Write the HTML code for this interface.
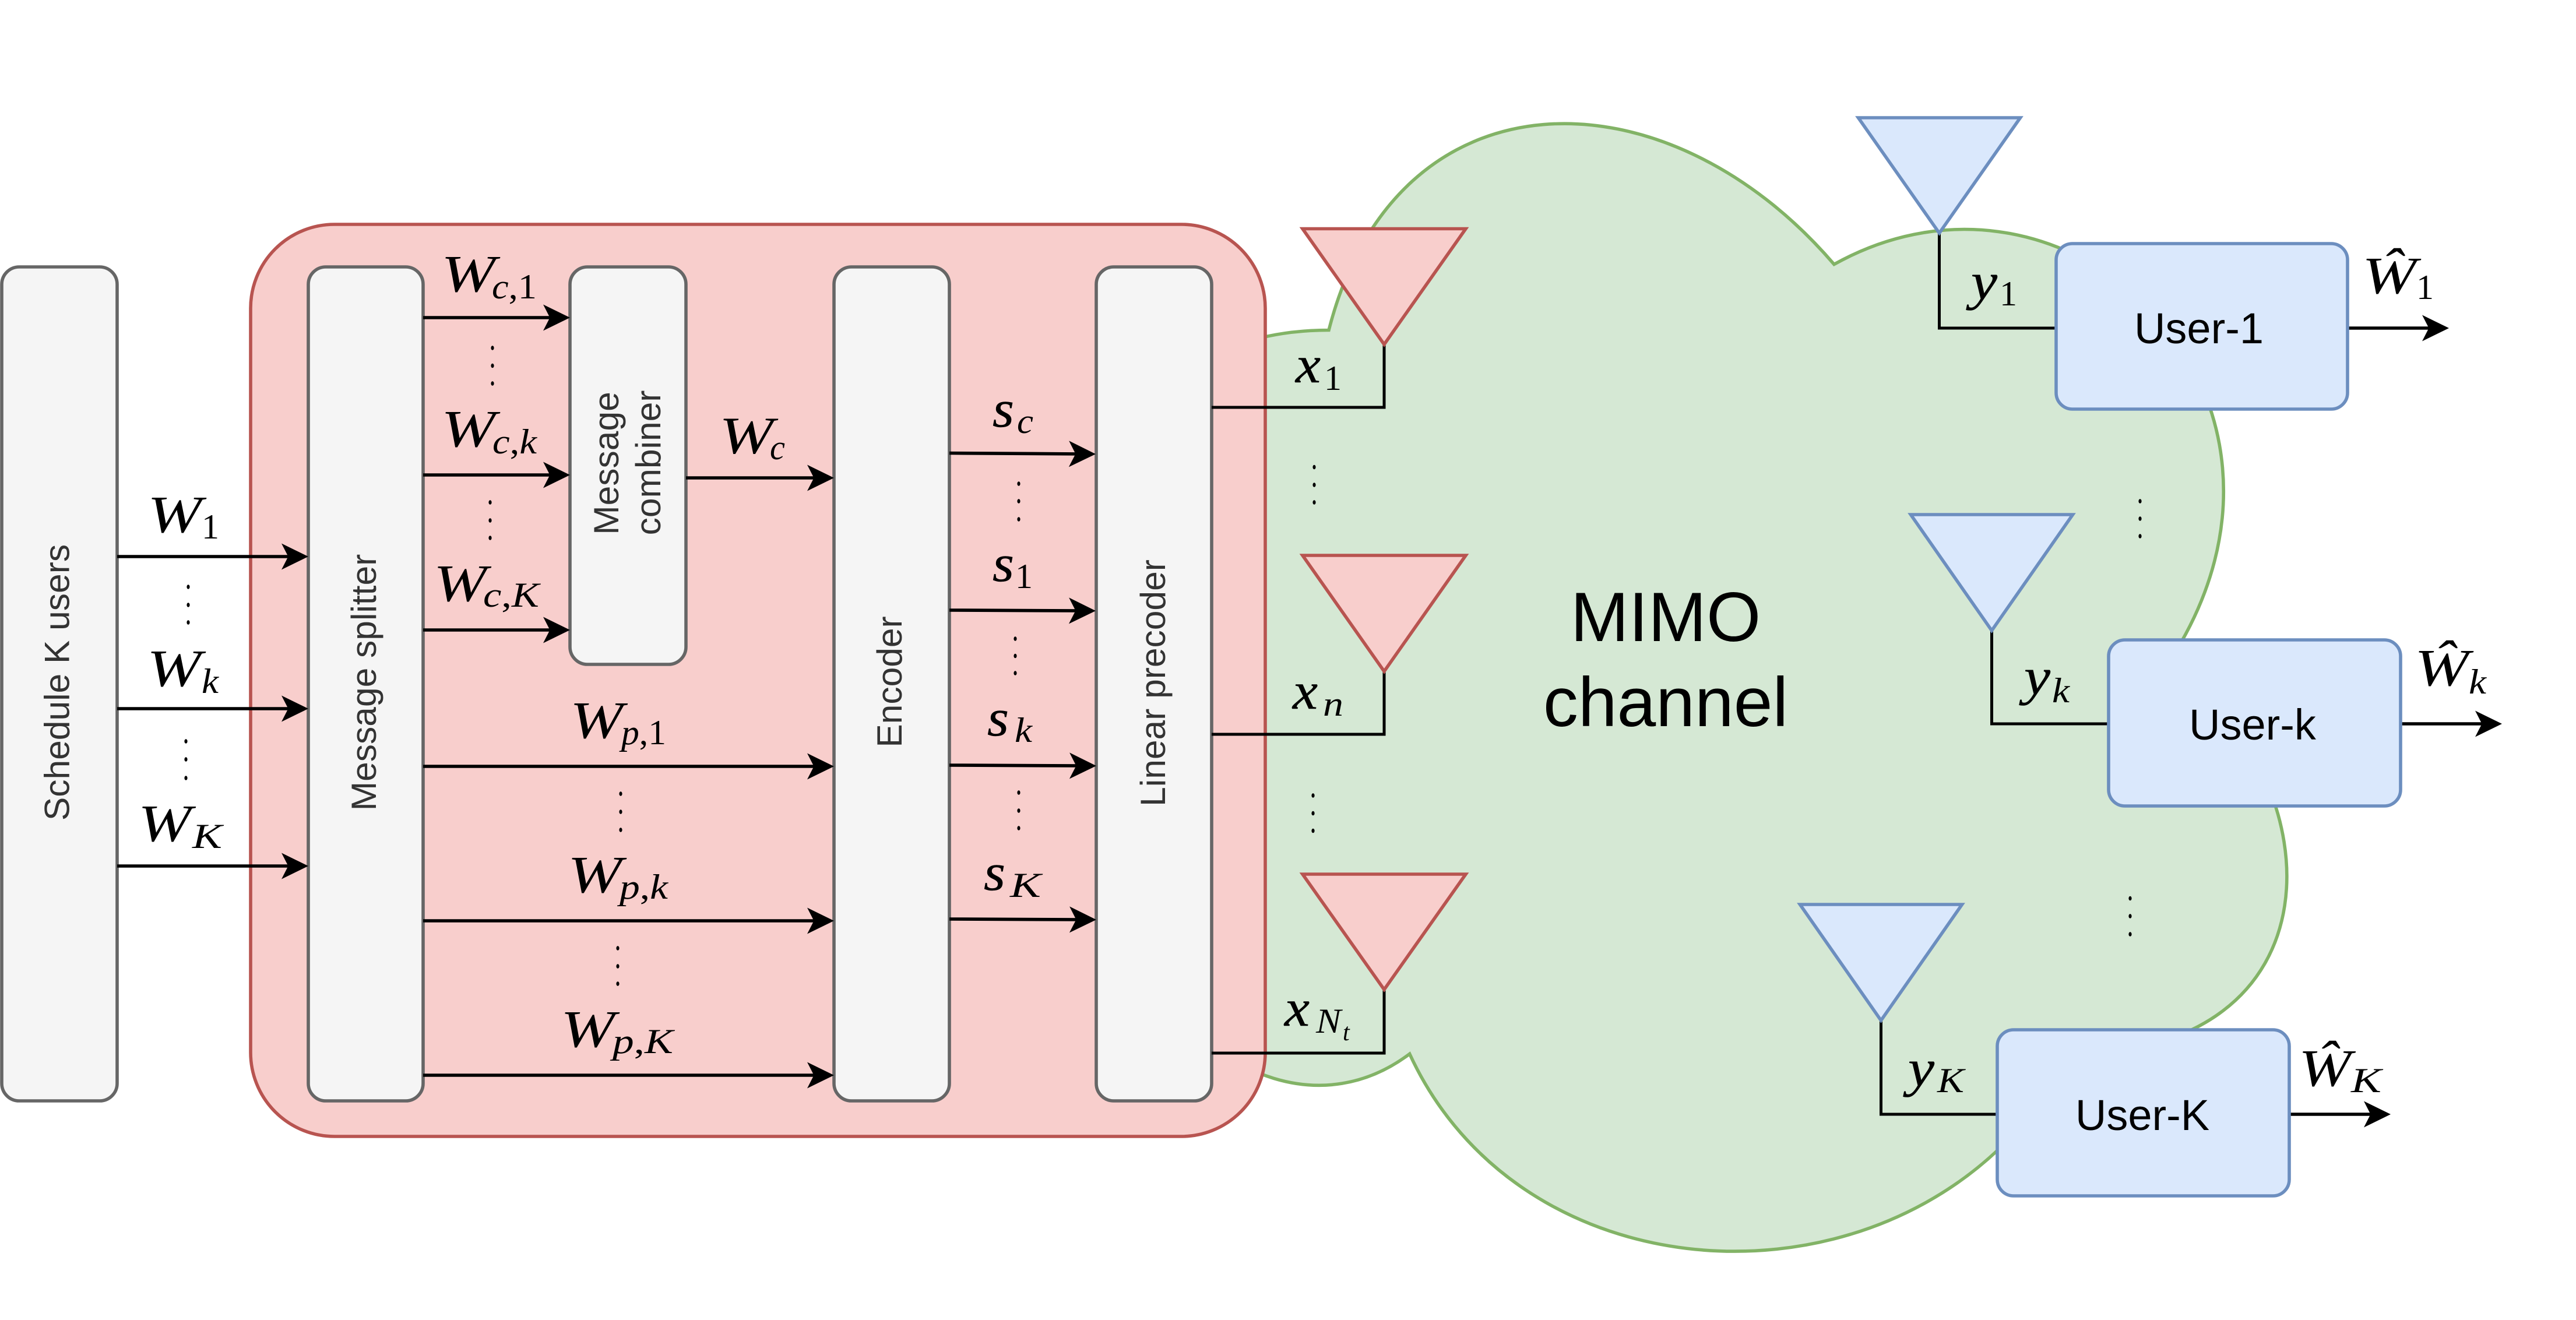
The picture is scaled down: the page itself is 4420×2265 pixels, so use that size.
<!DOCTYPE html>
<html><head><meta charset="utf-8">
<style>
html,body{margin:0;padding:0;background:#fff}
svg{display:block}
.m{font-family:"Liberation Serif",serif;font-style:italic;font-size:90px;fill:#000}
.h{stroke:#000;stroke-width:0.5}
.s{font-family:"Liberation Serif",serif;font-style:italic;font-size:60px;fill:#000}
.n{font-style:normal}
.b{font-family:"Liberation Sans",sans-serif;font-size:60.5px;fill:#333;text-anchor:middle}
.u{font-family:"Liberation Sans",sans-serif;font-size:74px;fill:#000;text-anchor:middle}
.c{font-family:"Liberation Sans",sans-serif;font-size:120px;fill:#000;text-anchor:middle}
.g{fill:#f5f5f5;stroke:#666;stroke-width:5.6}
.bl{fill:#dae8fc;stroke:#6c8ebf;stroke-width:5.6}
.rd{fill:#f8cecc;stroke:#b85450;stroke-width:5.6}
.l{stroke:#000;stroke-width:5.6;fill:none}
.k{stroke:#000;stroke-width:5;fill:none}
</style></head>
<body>
<svg xmlns="http://www.w3.org/2000/svg" width="4420" height="2265" viewBox="0 0 4420 2265">
<defs>
<marker id="a" markerUnits="userSpaceOnUse" markerWidth="46" markerHeight="45" refX="26" refY="22.5" orient="auto"><path d="M46 22.5L0 0L11.5 22.5L0 45z" fill="#000"/></marker>
</defs>
<rect width="4420" height="2265" fill="#fff"/>

<!-- cloud -->
<path d="M2280 566.5C1817.6 566.5 1702 1131 2071.9 1243.9C1702 1492.3 2118.2 2034.2 2418.7 1808.4C2626.8 2260 3320.4 2260 3551.6 1808.4C4014 1808.4 4014 1356.8 3725 1131C4014 679.4 3551.6 227.8 3147 453.6C2857 114.9 2395.6 114.9 2280 566.5Z" fill="#d5e8d4" stroke="#82b366" stroke-width="5.6"/>

<!-- red container -->
<rect x="430" y="385" width="1741" height="1565" rx="144" ry="144" class="rd"/>

<!-- blocks -->
<rect x="3" y="458" width="198" height="1431" rx="30" class="g"/>
<rect x="529" y="458" width="197" height="1431" rx="30" class="g"/>
<rect x="978" y="458" width="199" height="682" rx="30" class="g"/>
<rect x="1431" y="458" width="198" height="1431" rx="30" class="g"/>
<rect x="1881" y="458" width="198" height="1431" rx="30" class="g"/>

<!-- connectors -->
<line x1="201" y1="955" x2="509" y2="955" class="l" marker-end="url(#a)"/>
<line x1="201" y1="1216" x2="509" y2="1216" class="l" marker-end="url(#a)"/>
<line x1="201" y1="1486" x2="509" y2="1486" class="l" marker-end="url(#a)"/>
<line x1="726" y1="545" x2="958" y2="545" class="l" marker-end="url(#a)"/>
<line x1="726" y1="815" x2="958" y2="815" class="l" marker-end="url(#a)"/>
<line x1="726" y1="1081" x2="958" y2="1081" class="l" marker-end="url(#a)"/>
<line x1="1177" y1="820" x2="1411" y2="820" class="l" marker-end="url(#a)"/>
<line x1="726" y1="1315" x2="1411" y2="1315" class="l" marker-end="url(#a)"/>
<line x1="726" y1="1580" x2="1411" y2="1580" class="l" marker-end="url(#a)"/>
<line x1="726" y1="1845" x2="1411" y2="1845" class="l" marker-end="url(#a)"/>
<line x1="1629" y1="777.5" x2="1860" y2="779" class="l" marker-end="url(#a)"/>
<line x1="1629" y1="1047" x2="1860" y2="1048" class="l" marker-end="url(#a)"/>
<line x1="1629" y1="1313" x2="1861" y2="1314" class="l" marker-end="url(#a)"/>
<line x1="1629" y1="1577" x2="1861" y2="1578" class="l" marker-end="url(#a)"/>
<line x1="4028" y1="563" x2="4182" y2="563" class="l" marker-end="url(#a)"/>
<line x1="4119" y1="1242" x2="4273" y2="1242" class="l" marker-end="url(#a)"/>
<line x1="3928" y1="1912" x2="4082" y2="1912" class="l" marker-end="url(#a)"/>

<path d="M2079 699H2375V591" class="k"/>
<path d="M2079 1260H2375V1152" class="k"/>
<path d="M2079 1807H2375V1698" class="k"/>
<path d="M3327.5 400V563H3528" class="k"/>
<path d="M3417.5 1082V1242H3618" class="k"/>
<path d="M3227.5 1751V1912H3427" class="k"/>

<!-- antennas -->
<polygon points="2235,392.5 2515,392.5 2375,591" class="rd"/>
<polygon points="2235,953 2515,953 2375,1152" class="rd"/>
<polygon points="2235,1500 2515,1500 2375,1698" class="rd"/>
<polygon points="3188.5,202 3466.5,202 3327.5,400" class="bl"/>
<polygon points="3278.5,883 3556.5,883 3417.5,1082" class="bl"/>
<polygon points="3088.5,1552 3366.5,1552 3227.5,1751" class="bl"/>

<!-- users -->
<rect x="3528" y="418" width="500" height="284" rx="28" class="bl"/>
<rect x="3618" y="1098" width="501" height="285" rx="28" class="bl"/>
<rect x="3427" y="1767" width="501" height="285" rx="28" class="bl"/>

<!-- block labels -->
<text class="b" transform="translate(118.5,1171) rotate(-90)">Schedule K users</text>
<text class="b" transform="translate(645,1171) rotate(-90)">Message splitter</text>
<text class="b" transform="translate(1061,795) rotate(-90)">Message</text>
<text class="b" transform="translate(1133,794) rotate(-90)">combiner</text>
<text class="b" transform="translate(1547,1170) rotate(-90)">Encoder</text>
<text class="b" transform="translate(1999,1172) rotate(-90)">Linear precoder</text>
<text class="u" x="3773" y="589">User-1</text>
<text class="u" x="3865" y="1269">User-k</text>
<text class="u" x="3676" y="1939">User-K</text>
<text class="c" x="2858" y="1100">MIMO</text>
<text class="c" x="2858" y="1246">channel</text>

<!-- W labels -->
<text class="m" x="253" y="913" textLength="93" lengthAdjust="spacingAndGlyphs">W</text><text class="s n" x="346" y="924">1</text>
<text class="m" x="252" y="1177" textLength="93" lengthAdjust="spacingAndGlyphs">W</text><text class="s" x="346" y="1189" textLength="29" lengthAdjust="spacingAndGlyphs">k</text>
<text class="m" x="237" y="1443" textLength="91" lengthAdjust="spacingAndGlyphs">W</text><text class="s" x="330" y="1455" textLength="51" lengthAdjust="spacingAndGlyphs">K</text>

<text class="m" x="757" y="500" textLength="93" lengthAdjust="spacingAndGlyphs">W</text><text class="s" x="844" y="512" textLength="77" lengthAdjust="spacingAndGlyphs">c<tspan class="n">,1</tspan></text>
<text class="m" x="757" y="766" textLength="93" lengthAdjust="spacingAndGlyphs">W</text><text class="s" x="845" y="778" textLength="76" lengthAdjust="spacingAndGlyphs">c<tspan class="n">,</tspan>k</text>
<text class="m" x="744" y="1031" textLength="91" lengthAdjust="spacingAndGlyphs">W</text><text class="s" x="829" y="1041" textLength="96" lengthAdjust="spacingAndGlyphs">c<tspan class="n">,</tspan>K</text>
<text class="m" x="1234" y="777.5" textLength="93" lengthAdjust="spacingAndGlyphs">W</text><text class="s" x="1321" y="788" textLength="26" lengthAdjust="spacingAndGlyphs">c</text>

<text class="m" x="978" y="1266" textLength="91" lengthAdjust="spacingAndGlyphs">W</text><text class="s" x="1066" y="1277" textLength="77" lengthAdjust="spacingAndGlyphs">p<tspan class="n">,1</tspan></text>
<text class="m" x="974" y="1531" textLength="93" lengthAdjust="spacingAndGlyphs">W</text><text class="s" x="1063" y="1542" textLength="83" lengthAdjust="spacingAndGlyphs">p<tspan class="n">,</tspan>k</text>
<text class="m" x="962" y="1796" textLength="93" lengthAdjust="spacingAndGlyphs">W</text><text class="s" x="1051" y="1807" textLength="104" lengthAdjust="spacingAndGlyphs">p<tspan class="n">,</tspan>K</text>

<!-- s labels -->
<text class="m h" x="1703" y="732" textLength="37" lengthAdjust="spacingAndGlyphs">s</text><text class="s" x="1745" y="743" textLength="28" lengthAdjust="spacingAndGlyphs">c</text>
<text class="m h" x="1703" y="997" textLength="37" lengthAdjust="spacingAndGlyphs">s</text><text class="s n" x="1742" y="1009">1</text>
<text class="m h" x="1694" y="1262" textLength="37" lengthAdjust="spacingAndGlyphs">s</text><text class="s" x="1741" y="1273" textLength="30" lengthAdjust="spacingAndGlyphs">k</text>
<text class="m h" x="1688" y="1527" textLength="37" lengthAdjust="spacingAndGlyphs">s</text><text class="s" x="1733" y="1539" textLength="53" lengthAdjust="spacingAndGlyphs">K</text>

<!-- x labels -->
<text class="m h" x="2223" y="656" textLength="43" lengthAdjust="spacingAndGlyphs">x</text><text class="s n" x="2272" y="669">1</text>
<text class="m h" x="2218" y="1216" textLength="43" lengthAdjust="spacingAndGlyphs">x</text><text class="s" x="2270" y="1228" textLength="35" lengthAdjust="spacingAndGlyphs">n</text>
<text class="m h" x="2204" y="1760" textLength="43" lengthAdjust="spacingAndGlyphs">x</text><text class="s" x="2258" y="1772" textLength="43" lengthAdjust="spacingAndGlyphs">N</text><text class="s" style="font-size:42px" x="2304" y="1785">t</text>

<!-- y labels -->
<text class="m h" x="3382" y="513" textLength="45" lengthAdjust="spacingAndGlyphs">y</text><text class="s n" x="3431" y="524">1</text>
<text class="m h" x="3473" y="1191" textLength="45" lengthAdjust="spacingAndGlyphs">y</text><text class="s" x="3521" y="1205" textLength="30" lengthAdjust="spacingAndGlyphs">k</text>
<text class="m h" x="3274" y="1863" textLength="45" lengthAdjust="spacingAndGlyphs">y</text><text class="s" x="3324" y="1874" textLength="46" lengthAdjust="spacingAndGlyphs">K</text>

<!-- W-hat labels -->
<text class="m" x="4053" y="503" textLength="93" lengthAdjust="spacingAndGlyphs">Ŵ</text><text class="s n" x="4146" y="513">1</text>
<text class="m" x="4143" y="1176" textLength="93" lengthAdjust="spacingAndGlyphs">Ŵ</text><text class="s" x="4236" y="1190" textLength="30" lengthAdjust="spacingAndGlyphs">k</text>
<text class="m" x="3944" y="1863" textLength="90" lengthAdjust="spacingAndGlyphs">Ŵ</text><text class="s" x="4034" y="1874" textLength="52" lengthAdjust="spacingAndGlyphs">K</text>

<!-- vertical dots -->
<g fill="#000">
<ellipse cx="323" cy="1007" rx="2.6" ry="3.8"/><ellipse cx="323" cy="1038" rx="2.6" ry="3.8"/><ellipse cx="323" cy="1068" rx="2.6" ry="3.8"/>
<ellipse cx="319" cy="1272" rx="2.6" ry="3.8"/><ellipse cx="319" cy="1303" rx="2.6" ry="3.8"/><ellipse cx="319" cy="1335" rx="2.6" ry="3.8"/>
<ellipse cx="845" cy="597" rx="2.6" ry="3.8"/><ellipse cx="845" cy="627.5" rx="2.6" ry="3.8"/><ellipse cx="845" cy="658" rx="2.6" ry="3.8"/>
<ellipse cx="841" cy="862" rx="2.6" ry="3.8"/><ellipse cx="841" cy="893" rx="2.6" ry="3.8"/><ellipse cx="841" cy="923" rx="2.6" ry="3.8"/>
<ellipse cx="1065" cy="1362" rx="2.6" ry="3.8"/><ellipse cx="1065" cy="1393" rx="2.6" ry="3.8"/><ellipse cx="1065" cy="1424" rx="2.6" ry="3.8"/>
<ellipse cx="1060" cy="1627" rx="2.6" ry="3.8"/><ellipse cx="1060" cy="1658" rx="2.6" ry="3.8"/><ellipse cx="1060" cy="1688" rx="2.6" ry="3.8"/>
<ellipse cx="1748" cy="830" rx="2.6" ry="3.8"/><ellipse cx="1748" cy="860" rx="2.6" ry="3.8"/><ellipse cx="1748" cy="891" rx="2.6" ry="3.8"/>
<ellipse cx="1742" cy="1096" rx="2.6" ry="3.8"/><ellipse cx="1742" cy="1125.5" rx="2.6" ry="3.8"/><ellipse cx="1742" cy="1155" rx="2.6" ry="3.8"/>
<ellipse cx="1748" cy="1360" rx="2.6" ry="3.8"/><ellipse cx="1748" cy="1391" rx="2.6" ry="3.8"/><ellipse cx="1748" cy="1421" rx="2.6" ry="3.8"/>
<ellipse cx="2255" cy="801.5" rx="2.6" ry="3.8"/><ellipse cx="2255" cy="832" rx="2.6" ry="3.8"/><ellipse cx="2255" cy="862" rx="2.6" ry="3.8"/>
<ellipse cx="2253" cy="1365" rx="2.6" ry="3.8"/><ellipse cx="2253" cy="1395.5" rx="2.6" ry="3.8"/><ellipse cx="2253" cy="1425.5" rx="2.6" ry="3.8"/>
<ellipse cx="3672" cy="860" rx="2.6" ry="3.8"/><ellipse cx="3672" cy="890" rx="2.6" ry="3.8"/><ellipse cx="3672" cy="920" rx="2.6" ry="3.8"/>
<ellipse cx="3655" cy="1541.5" rx="2.6" ry="3.8"/><ellipse cx="3655" cy="1572" rx="2.6" ry="3.8"/><ellipse cx="3655" cy="1603" rx="2.6" ry="3.8"/>
</g>
</svg>
</body></html>
